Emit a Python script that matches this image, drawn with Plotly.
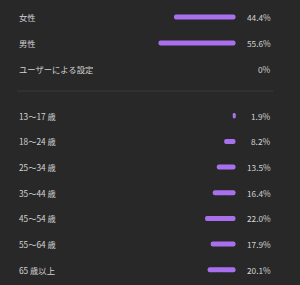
import plotly.graph_objects as go

gender_labels = ["女性", "男性", "ユーザーによる設定"]
gender_values = [44.4, 55.6, 0.0]
gender_text = ["44.4%", "55.6%", "0%"]

age_labels = ["13～17 歳", "18～24 歳", "25～34 歳", "35～44 歳", "45～54 歳", "55～64 歳", "65 歳以上"]
age_values = [1.9, 8.2, 13.5, 16.4, 22.0, 17.9, 20.1]
age_text = ["1.9%", "8.2%", "13.5%", "16.4%", "22.0%", "17.9%", "20.1%"]

BG = "#282828"
BAR = "#a970ee"
TXT = "#d2d2d2"
FONT = "Noto Sans CJK JP, Noto Sans, sans-serif"
FS = 8.3

W, H = 300, 285
fig = go.Figure()

def add_bars(labels, values, yaxis, width):
    # two overlapping halves, each rounded at its far end -> pill shape
    half = [v / 2 for v in values]
    ov = [min(1.0, h) for h in half]
    fig.add_trace(go.Bar(
        y=labels, x=[h + e for h, e in zip(half, ov)], base=[h - e for h, e in zip(half, ov)],
        orientation="h", marker=dict(color=BAR, cornerradius=3, line=dict(width=0)),
        width=width, yaxis=yaxis, xaxis="x", showlegend=False, hoverinfo="skip",
    ))
    fig.add_trace(go.Bar(
        y=labels, x=[-(h + e) for h, e in zip(half, ov)], base=[h + e for h, e in zip(half, ov)],
        orientation="h", marker=dict(color=BAR, cornerradius=3, line=dict(width=0)),
        width=width, yaxis=yaxis, xaxis="x", showlegend=False, hoverinfo="skip",
    ))

add_bars(gender_labels, gender_values, "y", 0.19)
add_bars(age_labels, age_values, "y2", 0.195)

ann = []
for labels, texts, yref in ((gender_labels, gender_text, "y"), (age_labels, age_text, "y2")):
    for lab, t in zip(labels, texts):
        ann.append(dict(x=17 / W, xref="paper", y=lab, yref=yref, text=lab, showarrow=False,
                        xanchor="left", yanchor="middle", font=dict(family=FONT, size=FS, color=TXT)))
        ann.append(dict(x=273 / W, xref="paper", y=lab, yref=yref, text=t, showarrow=False,
                        xanchor="right", yanchor="middle", font=dict(family=FONT, size=FS, color=TXT)))

px_per = 1.385
x0 = 235.5
fig.update_layout(
    width=W, height=H, margin=dict(l=0, r=0, t=0, b=0),
    paper_bgcolor=BG, plot_bgcolor=BG, barmode="overlay",
    xaxis=dict(range=[x0 / px_per, -(W - x0) / px_per], visible=False, fixedrange=True),
    yaxis=dict(domain=[1 - 82 / H, 1 - 4 / H], type="category", categoryorder="array",
               categoryarray=gender_labels, autorange="reversed", visible=False),
    yaxis2=dict(domain=[1 - 282.5 / H, 1 - 103 / H], type="category", categoryorder="array",
                categoryarray=age_labels, autorange="reversed", visible=False, anchor="x"),
    annotations=ann,
    shapes=[dict(type="line", xref="paper", yref="paper", x0=17 / W, x1=273 / W,
                 y0=1 - 91 / H, y1=1 - 91 / H, line=dict(color="#3a3a3a", width=1))],
)

fig.write_html("out.html")
